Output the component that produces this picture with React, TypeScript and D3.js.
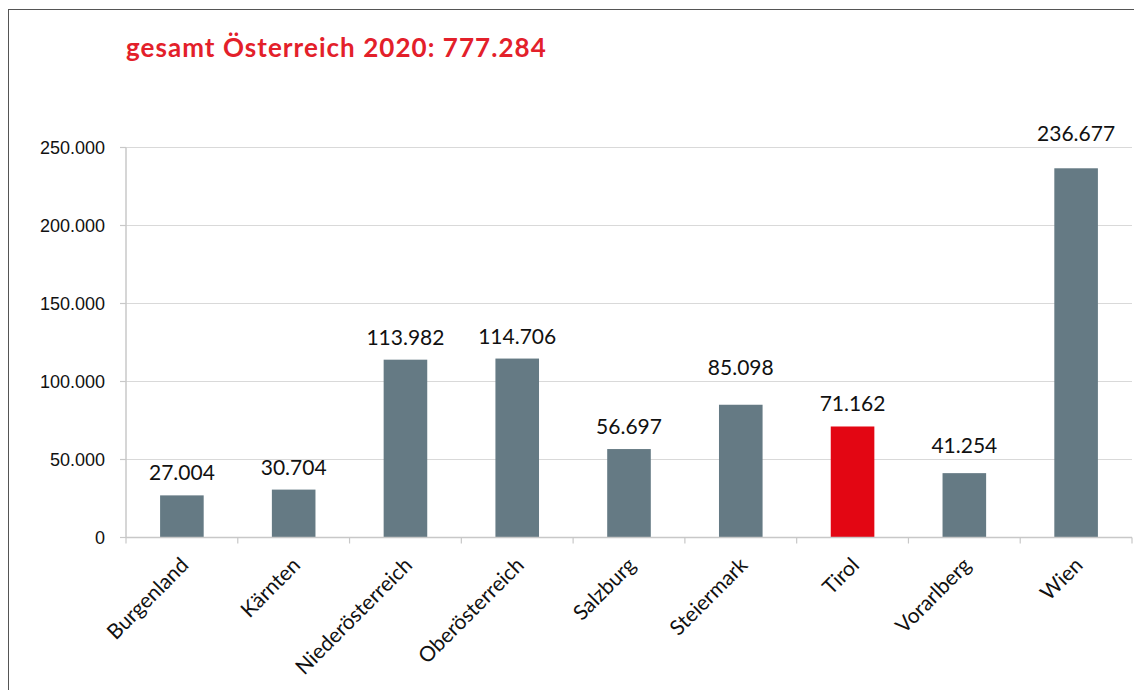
import React from "react";
import * as d3 from "d3";

const categories = ["Burgenland", "Kärnten", "Niederösterreich", "Oberösterreich", "Salzburg", "Steiermark", "Tirol", "Vorarlberg", "Wien"];
const values = [27004, 30704, 113982, 114706, 56697, 85098, 71162, 41254, 236677];
const highlight = ["Tirol"];
const yTicks = [0, 50000, 100000, 150000, 200000, 250000];
const titleText = "gesamt Österreich 2020: 777.284";

const W = 1134;
const H = 690;
const left = 126;
const right = 1132;
const top = 147.5;
const bottom = 537.5;

const locale = d3.formatLocale({ decimal: ",", thousands: ".", grouping: [3], currency: ["", "€"] });
const fmt = locale.format(",d");

export default function App() {
  const x = d3.scaleBand<string>().domain(categories).range([left, right]).paddingInner(0.61).paddingOuter(0.305);
  const xb = d3.scaleBand<string>().domain(categories).range([left, right]);
  const y = d3.scaleLinear().domain([0, 250000]).range([bottom, top]);
  const labelFont = "Lato, 'Open Sans', sans-serif";

  const labelY = (v: number) => {
    let b = y(v) - 15;
    for (const t of yTicks) {
      const g = y(t);
      if (t > 0 && g >= b - 14 && g <= b + 3) b = g - 7;
    }
    return b;
  };

  return (
    <svg width={W} height={H} style={{ position: "absolute", left: 0, top: 0, background: "#fff" }}>
      <rect x={8.5} y={9.5} width={1140} height={700} fill="#fff" stroke="#555" strokeWidth={1} />
      <text x={126} y={57} fill="#e3202a" fontFamily={labelFont} fontWeight="bold" fontSize={26} letterSpacing={1.05}>
        {titleText}
      </text>
      {yTicks.map((t) => (
        <g key={t}>
          {t > 0 && <line x1={left} x2={right} y1={y(t)} y2={y(t)} stroke="#d9d9d9" strokeWidth={1.2} />}
          <line x1={left - 6} x2={left} y1={y(t)} y2={y(t)} stroke="#c8c8c8" strokeWidth={1.2} />
          <text x={105} y={y(t) + 6.3} textAnchor="end" fontFamily="'Liberation Sans', Arial, sans-serif" fontSize={18} fill="#111">
            {fmt(t)}
          </text>
        </g>
      ))}
      <line x1={left} x2={left} y1={top} y2={bottom} stroke="#c8c8c8" strokeWidth={1.5} />
      {categories.map((c, i) => (
        <rect
          key={c}
          x={x(c)!}
          y={y(values[i])}
          width={x.bandwidth()}
          height={bottom - y(values[i])}
          fill={highlight.includes(c) ? "#e30613" : "#657a84"}
        />
      ))}
      <line x1={left} x2={right} y1={bottom} y2={bottom} stroke="#c8c8c8" strokeWidth={1.5} />
      {categories.map((c) => (
        <line key={c} x1={xb(c)! + xb.bandwidth()} x2={xb(c)! + xb.bandwidth()} y1={bottom} y2={bottom + 6} stroke="#c8c8c8" strokeWidth={1.2} />
      ))}
      <line x1={left} x2={left} y1={bottom} y2={bottom + 6} stroke="#c8c8c8" strokeWidth={1.2} />
      {categories.map((c, i) => (
        <text
          key={c}
          x={x(c)! + x.bandwidth() / 2}
          y={labelY(values[i])}
          textAnchor="middle"
          fontFamily={labelFont}
          fontSize={21}
          fill="#111"
        >
          {fmt(values[i])}
        </text>
      ))}
      {categories.map((c) => {
        const cx = xb(c)! + xb.bandwidth() / 2 + 8;
        const cy = bottom + 29;
        return (
          <text
            key={c}
            transform={`translate(${cx},${cy}) rotate(-45)`}
            textAnchor="end"
            fontFamily={labelFont}
            fontSize={21}
            fill="#111"
          >
            {c}
          </text>
        );
      })}
    </svg>
  );
}
